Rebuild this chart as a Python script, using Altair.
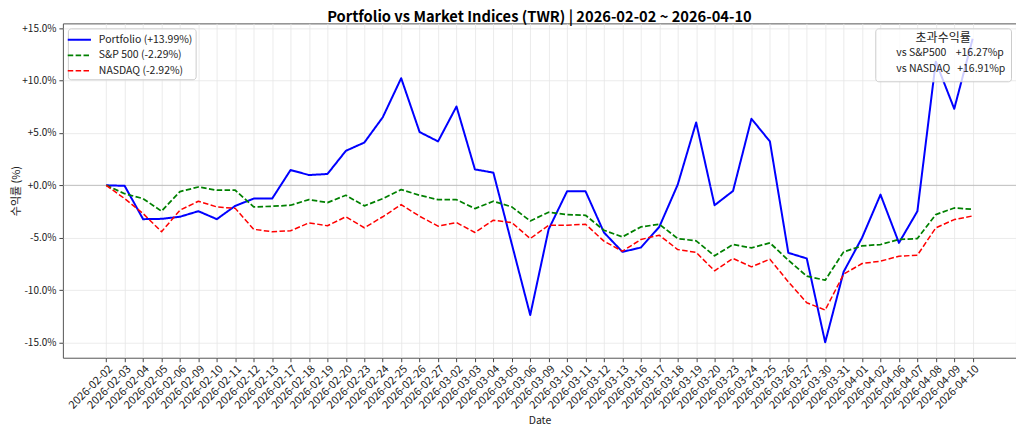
import altair as alt
import pandas as pd

dates = [
    "2026-02-02", "2026-02-03", "2026-02-04", "2026-02-05", "2026-02-06",
    "2026-02-09", "2026-02-10", "2026-02-11", "2026-02-12", "2026-02-13",
    "2026-02-17", "2026-02-18", "2026-02-19", "2026-02-20",
    "2026-02-23", "2026-02-24", "2026-02-25", "2026-02-26", "2026-02-27",
    "2026-03-02", "2026-03-03", "2026-03-04", "2026-03-05", "2026-03-06",
    "2026-03-09", "2026-03-10", "2026-03-11", "2026-03-12", "2026-03-13",
    "2026-03-16", "2026-03-17", "2026-03-18", "2026-03-19", "2026-03-20",
    "2026-03-23", "2026-03-24", "2026-03-25", "2026-03-26", "2026-03-27",
    "2026-03-30", "2026-03-31", "2026-04-01", "2026-04-02",
    "2026-04-06", "2026-04-07", "2026-04-08", "2026-04-09", "2026-04-10",
]

portfolio = [
    0.0, -0.05, -3.23, -3.2, -3.0, -2.47, -3.23, -1.96, -1.27, -1.27,
    1.46, 0.98, 1.08, 3.29, 4.08, 6.49,
    10.22, 5.08, 4.19, 7.52, 1.52, 1.21, -5.6, -12.38, -4.19, -0.57,
    -0.57, -4.5, -6.35, -5.94, -3.97, 0.06, 6.0,
    -1.9, -0.54, 6.35, 4.19, -6.44, -6.98, -14.98, -8.25, -5.0, -0.89,
    -5.49, -2.48, 11.8, 7.3, 13.99,
]
sp500 = [
    0.0, -0.8, -1.27, -2.47, -0.6, -0.16, -0.47, -0.47, -2.06, -2.0,
    -1.9, -1.36, -1.65, -0.95, -1.96, -1.27,
    -0.41, -0.95, -1.37, -1.37, -2.22, -1.52, -2.06, -3.4, -2.57, -2.79,
    -2.86, -4.29, -4.92, -3.97, -3.71, -5.08, -5.3,
    -6.73, -5.65, -5.97, -5.49, -7.14, -8.67, -9.05, -6.35, -5.78, -5.65,
    -5.17, -5.08, -2.79, -2.16, -2.29,
]
nasdaq = [
    0.0, -1.27, -2.69, -4.43, -2.37, -1.52, -2.06, -2.2, -4.2, -4.43,
    -4.34, -3.58, -3.86, -3.0, -4.05, -3.0,
    -1.84, -2.95, -3.9, -3.56, -4.5, -3.33, -3.56, -5.08, -3.81, -3.81,
    -3.71, -5.33, -6.29, -5.17, -4.76, -6.13, -6.4,
    -8.16, -6.98, -7.78, -7.05, -9.21, -11.2, -11.9, -8.48, -7.46, -7.24,
    -6.76, -6.67, -4.06, -3.27, -2.92,
]

series_names = ["Portfolio", "S&P 500", "NASDAQ"]
series_colors = ["#0000ff", "#008000", "#ff0000"]
excess_names = ["vs S&P500", "vs NASDAQ"]
excess_gaps = ["\u00a0\u00a0\u00a0\u00a0", "\u00a0\u00a0\u00a0"]
excess_values = [16.27, 16.91]

all_series = [portfolio, sp500, nasdaq]
labels = [f"{n} ({vals[-1]:+.2f}%)" for n, vals in zip(series_names, all_series)]

rows = []
for lbl, vals in zip(labels, all_series):
    for i, (d, v) in enumerate(zip(dates, vals)):
        rows.append({"idx": i, "Date": d, "value": v, "series": lbl})
df = pd.DataFrame(rows)

excess_labels = [f"{n}{g}{v:+.2f}%p" for n, g, v in zip(excess_names, excess_gaps, excess_values)]
excess_df = pd.DataFrame({"label": excess_labels})

FONT = "Noto Sans CJK KR"
n = len(dates)
margin = 0.05 * (n - 1)
date_array = "[" + ",".join(f"'{d}'" for d in dates) + "]"

x_enc = alt.X(
    "idx:Q",
    scale=alt.Scale(domain=[-margin, n - 1 + margin], nice=False, zero=False),
    axis=alt.Axis(
        title="Date", values=list(range(n)), labelExpr=f"{date_array}[datum.value]",
        labelAngle=315, labelAlign="right", labelBaseline="top",
        labelFontSize=11, titleFontSize=10.5, titleFontWeight="normal",
        grid=True, tickSize=4, labelPadding=1, titlePadding=5, labelOverlap=False,
        labelFlush=False,
    ),
)
y_enc = alt.Y(
    "value:Q",
    scale=alt.Scale(domain=[-16.45, 15.45], nice=False, zero=False),
    axis=alt.Axis(
        title="수익률 (%)", values=[-15, -10, -5, 0, 5, 10, 15],
        labelExpr="(datum.value >= 0 ? '+' : '-') + format(abs(datum.value), '.1f') + '%'",
        labelFontSize=10, titleFontSize=11, titleFontWeight="normal",
        tickSize=4, labelPadding=3, titlePadding=0, grid=True, labelFlush=False,
    ),
)

series_legend = alt.Legend(
    title="", orient="top-left", offset=5, symbolType="M-1.55,0H1.55", symbolSize=225,
    symbolStrokeWidth=2, labelFontSize=10.5, fillColor="rgba(255,255,255,0.8)",
    strokeColor="#cccccc", cornerRadius=3, padding=3, rowPadding=1.5, labelLimit=300,
    labelOffset=11,
)

lines = alt.Chart(df).mark_line(strokeJoin="round").encode(
    x=x_enc,
    y=y_enc,
    color=alt.Color("series:N", sort=labels,
                    scale=alt.Scale(domain=labels, range=series_colors),
                    legend=series_legend),
    strokeDash=alt.StrokeDash("series:N", sort=labels,
                              scale=alt.Scale(domain=labels, range=[[1, 0], [5.5, 2.4], [5.5, 2.4]]),
                              legend=series_legend),
    strokeWidth=alt.StrokeWidth("series:N", sort=labels,
                                scale=alt.Scale(domain=labels, range=[2, 1.5, 1.5]),
                                legend=None),
    detail="series:N",
    order="idx:Q",
)

zero_rule = alt.Chart(pd.DataFrame({"z": [0]})).mark_rule(
    color="#888888", opacity=0.6, strokeWidth=0.8
).encode(y=alt.datum(0))

excess_box = alt.Chart(excess_df).mark_point(opacity=0).encode(
    x=alt.value(0),
    y=alt.value(0),
    shape=alt.Shape(
        "label:N", sort=excess_labels,
        legend=alt.Legend(
            title="초과수익률", orient="top-right", offset=5, titleAnchor="middle",
            titleFontSize=12, titleFontWeight="normal", symbolSize=196, symbolOpacity=0,
            symbolStrokeWidth=0, symbolFillColor="transparent", labelFontSize=10.5,
            labelOffset=2, fillColor="rgba(255,255,255,0.8)", strokeColor="#cccccc",
            cornerRadius=3, padding=5, rowPadding=2, labelLimit=300, titlePadding=1,
        ),
    ),
)

chart = alt.layer(zero_rule, lines, excess_box).properties(
    width=955,
    height=335,
    title=alt.TitleParams(
        "Portfolio vs Market Indices (TWR) | 2026-02-02 ~ 2026-04-10",
        fontSize=14.7, fontWeight="bold", anchor="middle", offset=-4, color="#000000",
    ),
    autosize=alt.AutoSizeParams(type="none"),
    padding={"left": 55, "top": 15, "right": 0, "bottom": 68},
).resolve_scale(
    shape="independent"
).configure(
    font=FONT,
).configure_view(
    stroke="#555555", strokeWidth=1,
).configure_axis(
    gridColor="#e6e6e6", gridWidth=0.8, domain=False, tickColor="#444444",
    labelColor="#222222", titleColor="#222222", labelFont=FONT, titleFont=FONT,
).configure_legend(
    labelFont=FONT, titleFont=FONT, labelColor="#222222", titleColor="#222222",
)

chart.save("out.html", embed_options={"renderer": "svg", "actions": False})
